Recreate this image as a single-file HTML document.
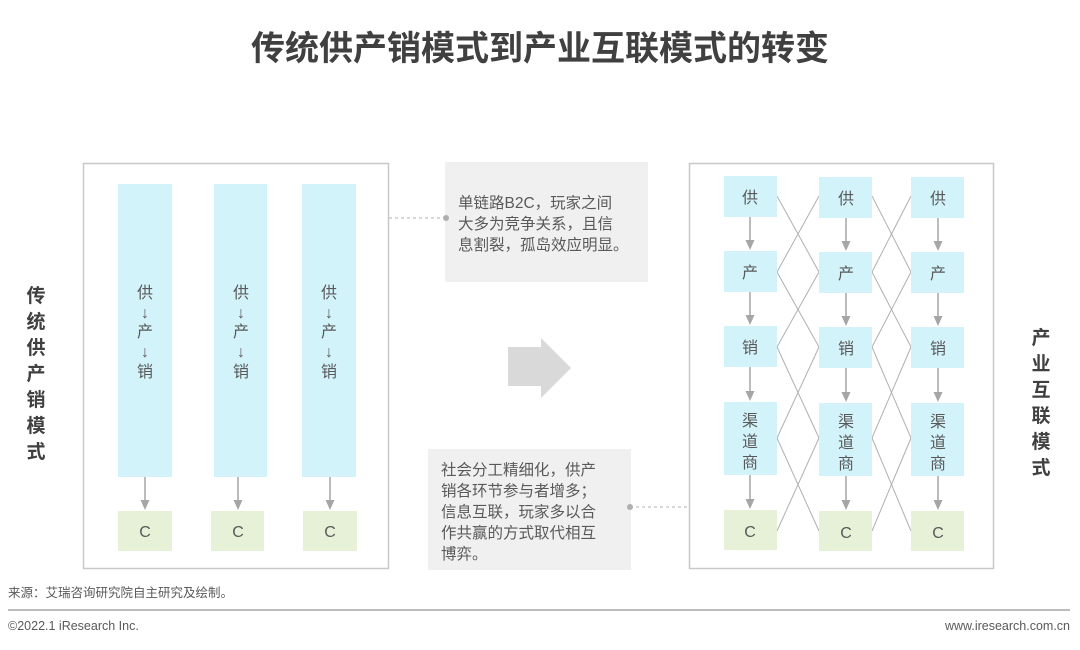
<!DOCTYPE html>
<html><head><meta charset="utf-8"><style>
body{margin:0;width:1080px;height:645px;background:#fff;overflow:hidden;font-family:"Liberation Sans","Noto Sans CJK SC",sans-serif}
svg text{font-family:"Liberation Sans","Noto Sans CJK SC",sans-serif}
</style></head><body>
<svg width="1080" height="645" xmlns="http://www.w3.org/2000/svg">
<text x="540" y="60" text-anchor="middle" font-size="34" font-weight="bold" fill="#404040">传统供产销模式到产业互联模式的转变</text>
<g font-size="19" font-weight="bold" fill="#404040" text-anchor="middle">
<text x="36" y="302">传</text><text x="36" y="328">统</text><text x="36" y="354">供</text><text x="36" y="380">产</text><text x="36" y="406">销</text><text x="36" y="432">模</text><text x="36" y="458">式</text>
<text x="1041" y="344">产</text><text x="1041" y="370">业</text><text x="1041" y="396">互</text><text x="1041" y="422">联</text><text x="1041" y="448">模</text><text x="1041" y="474">式</text>
</g>
<rect x="83.5" y="163.5" width="305" height="405" fill="none" stroke="#c8c8c8" stroke-width="1.5"/>
<rect x="689.5" y="163.5" width="304" height="405" fill="none" stroke="#c8c8c8" stroke-width="1.5"/>
<g fill="#d3f3fb">
<rect x="118" y="184" width="54" height="293"/><rect x="214" y="184" width="53" height="293"/><rect x="302" y="184" width="54" height="293"/>
</g>
<g fill="#e6f1d8">
<rect x="118" y="511" width="54" height="40"/><rect x="211" y="511" width="53" height="40"/><rect x="303" y="511" width="54" height="40"/>
</g>
<g stroke="#a6a6a6" stroke-width="1.5">
<line x1="145" y1="477" x2="145" y2="502"/><line x1="238" y1="477" x2="238" y2="502"/><line x1="330" y1="477" x2="330" y2="502"/>
</g>
<g fill="#a6a6a6">
<path d="M140.5,500 h9 l-4.5,10z"/><path d="M233.5,500 h9 l-4.5,10z"/><path d="M325.5,500 h9 l-4.5,10z"/>
</g>
<g font-size="16" fill="#595959" text-anchor="middle">
<g><text x="145" y="298">供</text><text x="145" y="318">↓</text><text x="145" y="337">产</text><text x="145" y="357">↓</text><text x="145" y="377">销</text></g>
<g><text x="241" y="298">供</text><text x="241" y="318">↓</text><text x="241" y="337">产</text><text x="241" y="357">↓</text><text x="241" y="377">销</text></g>
<g><text x="329" y="298">供</text><text x="329" y="318">↓</text><text x="329" y="337">产</text><text x="329" y="357">↓</text><text x="329" y="377">销</text></g>
<text x="145" y="537">C</text><text x="238" y="537">C</text><text x="330" y="537">C</text>
</g>
<!-- right -->
<g stroke="#b0b0b0" stroke-width="1" fill="none">
<line x1="777" y1="196" x2="819" y2="272"/><line x1="819" y1="196" x2="777" y2="272"/>
<line x1="777" y1="272" x2="819" y2="347"/><line x1="819" y1="272" x2="777" y2="347"/>
<line x1="777" y1="347" x2="819" y2="438"/><line x1="819" y1="347" x2="777" y2="438"/>
<line x1="777" y1="438" x2="819" y2="531"/><line x1="819" y1="438" x2="777" y2="531"/>
<line x1="872" y1="196" x2="911" y2="272"/><line x1="911" y1="196" x2="872" y2="272"/>
<line x1="872" y1="272" x2="911" y2="347"/><line x1="911" y1="272" x2="872" y2="347"/>
<line x1="872" y1="347" x2="911" y2="438"/><line x1="911" y1="347" x2="872" y2="438"/>
<line x1="872" y1="438" x2="911" y2="531"/><line x1="911" y1="438" x2="872" y2="531"/>
</g>
<g fill="#d3f3fb">
<rect x="724" y="176" width="53" height="41"/><rect x="819" y="177" width="53" height="41"/><rect x="911" y="177" width="53" height="41"/>
<rect x="724" y="251" width="53" height="41"/><rect x="819" y="252" width="53" height="41"/><rect x="911" y="252" width="53" height="41"/>
<rect x="724" y="326" width="53" height="41"/><rect x="819" y="327" width="53" height="41"/><rect x="911" y="327" width="53" height="41"/>
<rect x="724" y="402" width="53" height="73"/><rect x="819" y="403" width="53" height="73"/><rect x="911" y="403" width="53" height="73"/>
</g>
<g fill="#e6f1d8">
<rect x="724" y="510" width="53" height="40"/><rect x="819" y="511" width="53" height="40"/><rect x="911" y="511" width="53" height="40"/>
</g>
<g stroke="#a6a6a6" stroke-width="1.5">
<line x1="750" y1="217" x2="750" y2="242"/><line x1="846" y1="218" x2="846" y2="243"/><line x1="938" y1="218" x2="938" y2="243"/>
<line x1="750" y1="292" x2="750" y2="317"/><line x1="846" y1="293" x2="846" y2="318"/><line x1="938" y1="293" x2="938" y2="318"/>
<line x1="750" y1="367" x2="750" y2="393"/><line x1="846" y1="368" x2="846" y2="394"/><line x1="938" y1="368" x2="938" y2="394"/>
<line x1="750" y1="475" x2="750" y2="501"/><line x1="846" y1="476" x2="846" y2="502"/><line x1="938" y1="476" x2="938" y2="502"/>
</g>
<g fill="#a6a6a6">
<path d="M745.5,240 h9 l-4.5,10z"/><path d="M841.5,241 h9 l-4.5,10z"/><path d="M933.5,241 h9 l-4.5,10z"/>
<path d="M745.5,315 h9 l-4.5,10z"/><path d="M841.5,316 h9 l-4.5,10z"/><path d="M933.5,316 h9 l-4.5,10z"/>
<path d="M745.5,391 h9 l-4.5,10z"/><path d="M841.5,392 h9 l-4.5,10z"/><path d="M933.5,392 h9 l-4.5,10z"/>
<path d="M745.5,499 h9 l-4.5,10z"/><path d="M841.5,500 h9 l-4.5,10z"/><path d="M933.5,500 h9 l-4.5,10z"/>
</g>
<g font-size="16" fill="#595959" text-anchor="middle">
<g><text x="750" y="203">供</text><text x="750" y="278">产</text><text x="750" y="353">销</text><text x="750" y="426">渠</text><text x="750" y="447">道</text><text x="750" y="468">商</text><text x="750" y="537">C</text></g>
<g><text x="846" y="204">供</text><text x="846" y="279">产</text><text x="846" y="354">销</text><text x="846" y="427">渠</text><text x="846" y="448">道</text><text x="846" y="469">商</text><text x="846" y="538">C</text></g>
<g><text x="938" y="204">供</text><text x="938" y="279">产</text><text x="938" y="354">销</text><text x="938" y="427">渠</text><text x="938" y="448">道</text><text x="938" y="469">商</text><text x="938" y="538">C</text></g>
</g>
<!-- middle -->
<rect x="445" y="162" width="203" height="120" fill="#f0f0f0"/>
<rect x="428" y="449" width="203" height="121" fill="#f0f0f0"/>
<g stroke="#b0b0b0" stroke-width="1" stroke-dasharray="3,3"><line x1="389" y1="218" x2="445" y2="218"/><line x1="630" y1="507" x2="689" y2="507"/></g>
<circle cx="446" cy="218" r="3" fill="#b0b0b0"/><circle cx="630" cy="507" r="3" fill="#b0b0b0"/>
<path d="M508,347 H541 V338 L571,368 L541,398 V386 H508z" fill="#d9d9d9"/>
<g font-size="15.5" fill="#595959">
<text x="458" y="208">单链路B2C，玩家之间</text><text x="458" y="229">大多为竞争关系，且信</text><text x="458" y="250">息割裂，孤岛效应明显。</text>
<text x="441" y="475">社会分工精细化，供产</text><text x="441" y="496">销各环节参与者增多；</text><text x="441" y="517">信息互联，玩家多以合</text><text x="441" y="538">作共赢的方式取代相互</text><text x="441" y="559">博弈。</text>
</g>
<text x="8" y="597" font-size="12.5" fill="#595959">来源：艾瑞咨询研究院自主研究及绘制。</text>
<line x1="8" y1="610" x2="1070" y2="610" stroke="#a6a6a6" stroke-width="1.5"/>
<text x="8" y="630" font-size="12.5" fill="#595959">©2022.1 iResearch Inc.</text>
<text x="1070" y="630" font-size="12.5" fill="#595959" text-anchor="end">www.iresearch.com.cn</text>
</svg>
</body></html>
